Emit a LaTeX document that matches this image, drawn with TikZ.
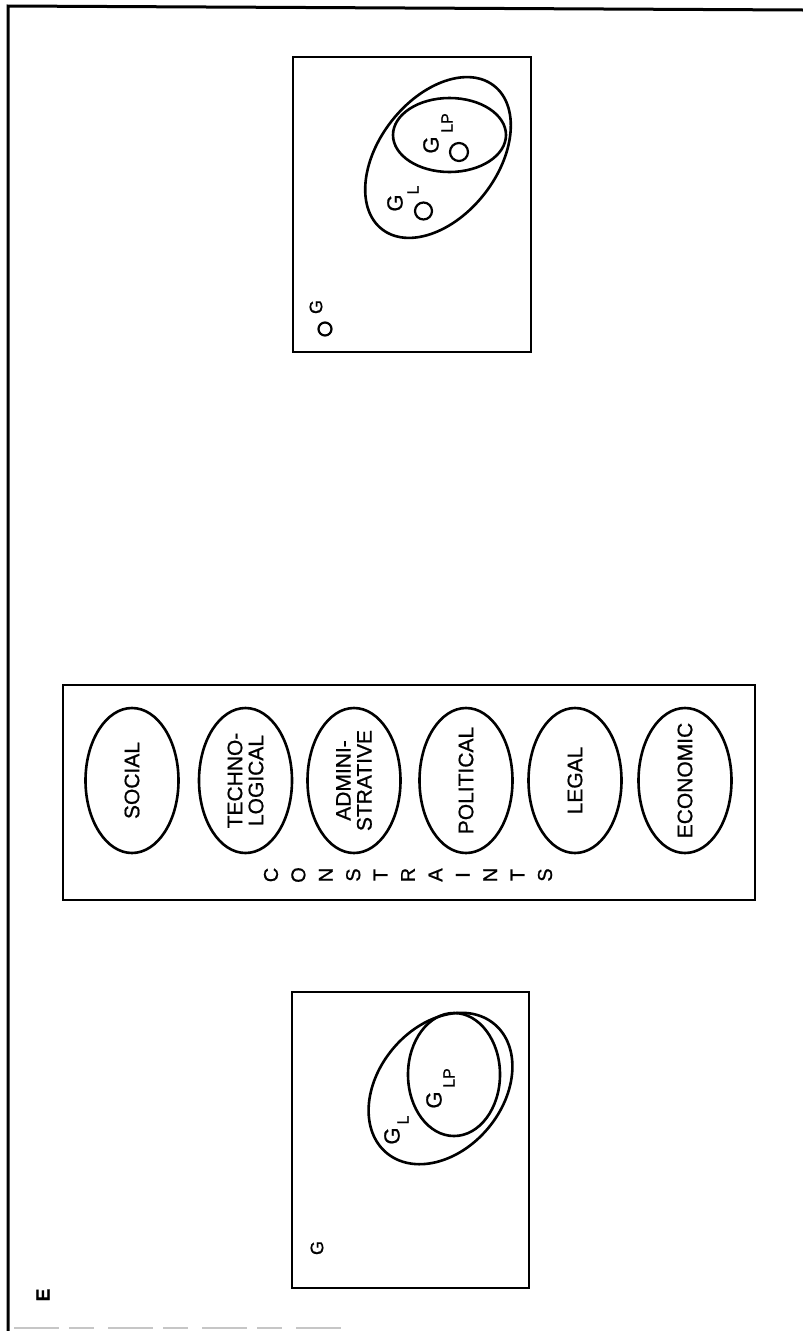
\documentclass[tikz,border=0pt]{standalone}
\usepackage{fontspec}
\setmainfont{Liberation Sans}[FakeBold=1.2]
\newfontfamily\heavy{Liberation Sans}[FakeBold=0.8]
\usetikzlibrary{shapes.geometric}
\begin{document}
\begin{tikzpicture}[x=1pt,y=1pt,
  frame/.style={line width=3pt},
  box/.style={line width=2.6pt},
  ell/.style={line width=2.6pt},
  cons/.style={ellipse, draw, line width=2.6pt, inner sep=0pt, minimum width=93pt, minimum height=145pt},
  lab/.style={rotate=90, inner sep=0pt, align=center, font=\heavy\fontsize{21}{21}\selectfont},
  ltr/.style={rotate=90, inner sep=0pt, font=\heavy\fontsize{20}{20}\selectfont},
  gbig/.style={rotate=90, inner sep=0pt, font=\heavy\fontsize{22}{22}\selectfont},
  gsub/.style={rotate=90, inner sep=0pt, font=\heavy\fontsize{16}{16}\selectfont},
  gsmall/.style={rotate=90, inner sep=0pt, font=\heavy\fontsize{18}{18}\selectfont},
  pt/.style={circle, draw, line width=2.2pt, inner sep=0pt}
]
\useasboundingbox (0,0) rectangle (803,-1331);
% outer frame
\draw[frame] (803,-10) -- (8,-6) -- (8,-1331);
\draw[gray!45, line width=1.5pt, dash pattern=on 45pt off 10pt on 25pt off 14pt] (14,-1328) -- (345,-1328);
\node[font=\heavy\bfseries\fontsize{19}{19}\selectfont, rotate=90, inner sep=0pt] (E) at (43,-1295) {E};

% ---------- top panel ----------
\draw[box] (293,-57) rectangle (531,-352);
\draw[ell, rotate around={52:(438,-157.5)}] (438,-157.5) ellipse [x radius=91, y radius=59];
\draw[ell] (449.5,-135) ellipse [x radius=56.5, y radius=37];
\node[pt, minimum size=17pt] (pL) at (423.5,-211) {};
\node[pt, minimum size=18pt] (pLP) at (459,-152) {};
\node[gbig] (tGL) at (395,-203) {G};
\node[gsub] (tGLs) at (413,-190) {L};
\node[gbig] (tGLP) at (431,-145) {G};
\node[gsub] (tGLPs) at (447,-123) {LP};
\node[pt, minimum size=13pt] (pG) at (325,-329) {};
\node[gsmall] (tG) at (316,-307) {G};

% ---------- constraints panel ----------
\draw[box] (63,-685) rectangle (755,-900);
\node[cons] (soc) at (132,-780.5) {};
\node[cons] (tec) at (245.5,-780.5) {};
\node[cons] (adm) at (354,-780.5) {};
\node[cons] (pol) at (466,-780.5) {};
\node[cons] (leg) at (575,-780.5) {};
\node[cons] (eco) at (685,-780.5) {};
\node[lab] (socT) at (soc) {SOCIAL};
\node[lab] (tecT) at (tec) {TECHNO-\\LOGICAL};
\node[lab] (admT) at (adm) {ADMINI-\\STRATIVE};
\node[lab] (polT) at (pol) {POLITICAL};
\node[lab] (legT) at (leg) {LEGAL};
\node[lab] (ecoT) at (eco) {ECONOMIC};
\foreach \c [count=\i from 0] in {C,O,N,S,T,R,A,I,N,T,S}{
  \node[ltr] (c\i) at (271+27.4*\i,-875) {\c};
}

% ---------- bottom panel ----------
\draw[box] (292,-992) rectangle (529,-1288);
\draw[ell, rotate around={50:(440.5,-1088.5)}] (440.5,-1088.5) ellipse [x radius=84, y radius=62];
\draw[ell] (454,-1074.5) ellipse [x radius=46, y radius=61.5];
\node[gbig] (bGL) at (392,-1136) {G};
\node[gsub] (bGLs) at (403,-1120) {L};
\node[gbig] (bGLP) at (434,-1100) {G};
\node[gsub] (bGLPs) at (449,-1078) {LP};
\node[gsmall] (bG) at (317,-1248) {G};
\end{tikzpicture}
\end{document}
